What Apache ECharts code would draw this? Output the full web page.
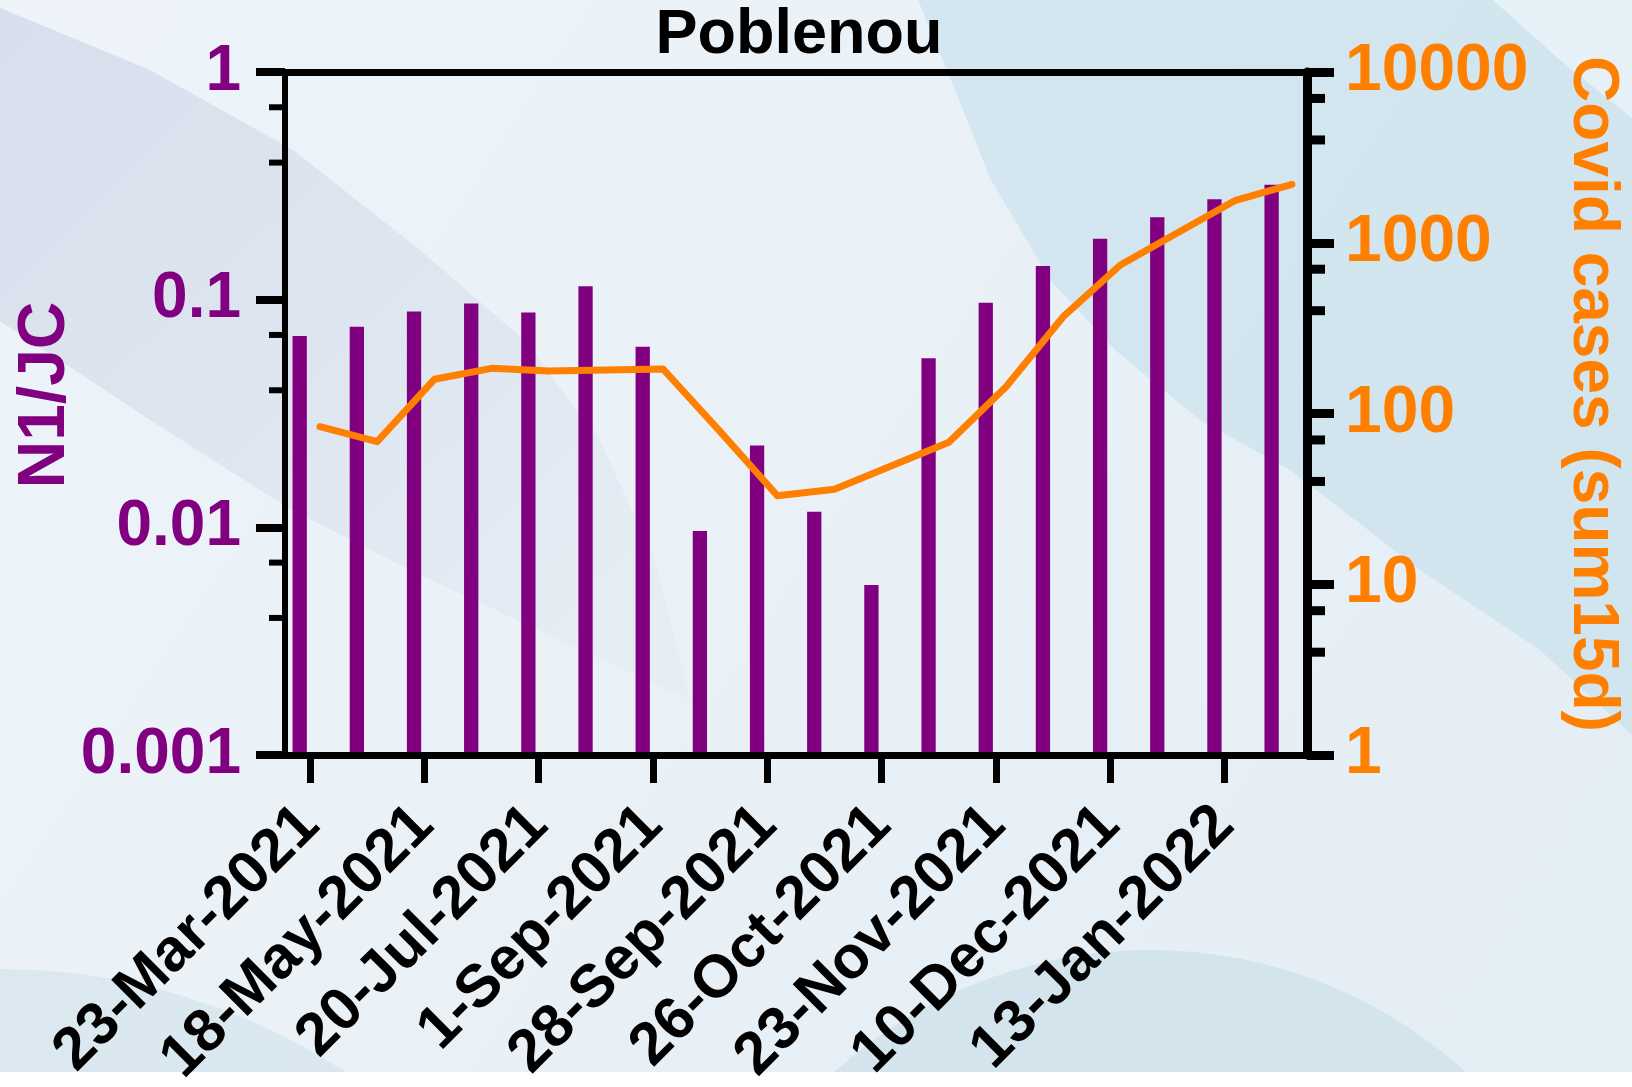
<!DOCTYPE html>
<html>
<head>
<meta charset="utf-8">
<title>Poblenou</title>
<script src="https://cdn.jsdelivr.net/npm/echarts@6/dist/echarts.min.js"></script>
<style>
  html, body { margin: 0; padding: 0; background: #ffffff; }
  #chart { width: 1632px; height: 1087px; }
</style>
</head>
<body>
<div id="chart"></div>
<script>
// Sampling dates on the x axis (every second sample carries a label)
const dateLabels = ['23-Mar-2021', '18-May-2021', '20-Jul-2021', '1-Sep-2021', '28-Sep-2021',
                    '26-Oct-2021', '23-Nov-2021', '10-Dec-2021', '13-Jan-2022'];

// N1 gene copies normalised by JC virus (left axis)
const n1jc = [0.0692, 0.0760, 0.0888, 0.0961, 0.0879, 0.1144, 0.0621, 0.00964, 0.0229,
              0.0117, 0.00558, 0.0553, 0.0970, 0.1405, 0.1853, 0.2300, 0.2760, 0.3199];

// Covid cases, 15-day sum (right axis)
const cases = [83.7, 68.4, 158.6, 183.9, 177.4, 179.8, 182.2, 78.3, 33.0,
               36.0, 49.5, 67.9, 143.5, 368.9, 740.6, 1145, 1763, 2199];

// Axis ranges and minor tick values
const leftRange = [0.001, 1];
const rightRange = [1, 10000];
const leftMinorTicks = [0.7, 0.4, 0.07, 0.04, 0.007, 0.004];
const rightMinorTicks = [7000, 4000, 700, 400, 70, 40, 7, 4];

const categories = n1jc.map((_, i) => (i % 2 === 0 ? dateLabels[i / 2] : ''));

const PURPLE = '#800080';
const ORANGE = '#ff8000';
const FONT = '"Liberation Sans", Arial, Helvetica, sans-serif';

// plot frame geometry
const GRID = { left: 281.2, width: 1029.1, top: 72, height: 683 };
const INSET_L = 3.8;     // left axis line sits slightly inside the first band
const INSET_R = 3.3;     // same for the right axis
const BAR_W = 14.3;
const BAR_SHIFT = -10.1; // bars sit left of the band centre
const LINE_SHIFT = 10.2; // line points sit right of the band centre

const chart = echarts.init(document.getElementById('chart'), null, { renderer: 'canvas' });

const fmt = v => String(+(+v).toPrecision(4));

// soft wallpaper behind the graph
const background = [
  { type: 'rect', z: -100, silent: true, shape: { x: 0, y: 0, width: 1632, height: 1072 },
    style: { fill: new echarts.graphic.LinearGradient(0, 0, 1, 1, [
      { offset: 0, color: '#eef4f9' }, { offset: 0.5, color: '#e9f1f7' }, { offset: 1, color: '#e3edf4' }]) } },
  { type: 'polygon', z: -99, silent: true,
    shape: { points: [[0, 8], [150, 70], [293, 150], [420, 250], [523, 339], [600, 440], [654, 560], [690, 700],
                      [560, 640], [420, 575], [293, 511], [150, 420], [0, 321]] },
    style: { fill: new echarts.graphic.LinearGradient(0, 0, 1, 1, [
      { offset: 0, color: 'rgba(188,196,222,0.45)' }, { offset: 0.6, color: 'rgba(196,206,226,0.30)' },
      { offset: 1, color: 'rgba(205,215,230,0.10)' }]) } },
  { type: 'polygon', z: -98, silent: true,
    shape: { points: [[918, 0], [955, 90], [990, 178], [1050, 280], [1115, 350], [1200, 420], [1290, 470],
                      [1420, 570], [1540, 650], [1632, 735], [1632, 0]] },
    style: { fill: 'rgba(180,214,230,0.40)' } },
  { type: 'polygon', z: -97, silent: true,
    shape: { points: [[1493, 0], [1632, 0], [1632, 118], [1560, 60]] },
    style: { fill: 'rgba(238,246,251,0.7)' } },
  { type: 'circle', z: -96, silent: true, shape: { cx: 1150, cy: 1420, r: 470 },
    style: { fill: 'rgba(186,212,226,0.40)' } },
  { type: 'circle', z: -95, silent: true, shape: { cx: 0, cy: 1600, r: 631 },
    style: { fill: 'rgba(192,214,228,0.36)' } },
  { type: 'rect', z: -90, silent: true, shape: { x: 0, y: 1072, width: 1632, height: 15 },
    style: { fill: '#ffffff' } }
];

function minorTickSeries(values, yAxisIndex, side, len, width) {
  return {
    type: 'custom',
    xAxisIndex: 0,
    yAxisIndex: yAxisIndex,
    silent: true,
    clip: false,
    z: 6,
    data: values.map(v => [0, v]),
    renderItem(params, api) {
      const y = api.coord([0, api.value(1)])[1];
      const cs = params.coordSys;
      const x = side === 'left' ? cs.x + INSET_L : cs.x + cs.width - INSET_R;
      const x2 = side === 'left' ? x - len : x + len;
      return { type: 'line', shape: { x1: x, y1: y, x2: x2, y2: y },
               style: { stroke: '#000', lineWidth: width } };
    }
  };
}

const option = {
  backgroundColor: '#ffffff',
  animation: false,
  graphic: background,
  title: {
    text: 'Poblenou',
    left: 799,
    top: 4,
    padding: 0,
    textAlign: 'center',
    textStyle: { fontFamily: FONT, fontSize: 63, fontWeight: 'bold', color: '#000' }
  },
  grid: [
    { left: GRID.left, width: GRID.width, top: GRID.top, height: GRID.height, outerBoundsMode: 'none', containLabel: false },
    { left: GRID.left + LINE_SHIFT, width: GRID.width, top: GRID.top, height: GRID.height, outerBoundsMode: 'none', containLabel: false }
  ],
  xAxis: [
    {
      gridIndex: 0, type: 'category', data: categories, position: 'bottom', boundaryGap: true, z: 5,
      axisLine: { show: true, lineStyle: { color: '#000', width: 7 } },
      axisTick: { show: true, alignWithLabel: true, interval: 1, length: 28, lineStyle: { color: '#000', width: 7 } },
      axisLabel: { interval: 1, rotate: 45, margin: 61, color: '#000', fontFamily: FONT, fontSize: 60, fontWeight: 'bold' },
      splitLine: { show: false }
    },
    {
      gridIndex: 0, type: 'category', data: categories, position: 'top', boundaryGap: true, z: 5,
      axisLine: { show: true, lineStyle: { color: '#000', width: 7 } },
      axisTick: { show: false }, axisLabel: { show: false }, splitLine: { show: false }
    },
    { gridIndex: 1, type: 'category', data: categories, boundaryGap: true, show: false }
  ],
  yAxis: [
    {
      gridIndex: 0, type: 'log', logBase: 10, min: leftRange[0], max: leftRange[1], position: 'left',
      offset: -INSET_L, z: 5,
      axisLine: { show: true, lineStyle: { color: '#000', width: 6 } },
      axisTick: { show: true, length: 29, lineStyle: { color: '#000', width: 8 } },
      axisLabel: { margin: 44, color: PURPLE, fontFamily: FONT, fontSize: 64, fontWeight: 'bold', formatter: fmt },
      splitLine: { show: false },
      name: 'N1/JC', nameLocation: 'middle', nameGap: 206, nameMoveOverlap: false,
      nameTextStyle: { color: PURPLE, fontFamily: FONT, fontSize: 66, fontWeight: 'bold', padding: [0, 0, 0, 37] }
    },
    {
      gridIndex: 0, type: 'log', logBase: 10, min: rightRange[0], max: rightRange[1], position: 'right',
      offset: -INSET_R, z: 5,
      axisLine: { show: true, lineStyle: { color: '#000', width: 9 } },
      axisTick: { show: true, length: 27, lineStyle: { color: '#000', width: 9 } },
      axisLabel: { margin: 38, color: ORANGE, fontFamily: FONT, fontSize: 66, fontWeight: 'bold', formatter: fmt },
      splitLine: { show: false },
      name: 'Covid cases (sum15d)', nameLocation: 'middle', nameGap: 253, nameRotate: -90, nameMoveOverlap: false,
      nameTextStyle: { color: ORANGE, fontFamily: FONT, fontSize: 64, fontWeight: 'bold', padding: [0, 39, 0, 0] }
    },
    { gridIndex: 1, type: 'log', logBase: 10, min: rightRange[0], max: rightRange[1], show: false }
  ],
  series: [
    {
      name: 'N1/JC',
      type: 'custom',
      xAxisIndex: 0,
      yAxisIndex: 0,
      z: 2,
      data: n1jc.map((v, i) => [i, v]),
      encode: { x: 0, y: 1 },
      renderItem(params, api) {
        const i = api.value(0);
        const top = api.coord([i, api.value(1)]);
        const base = api.coord([i, leftRange[0]]);
        return {
          type: 'rect',
          shape: { x: top[0] + BAR_SHIFT - BAR_W / 2, y: top[1], width: BAR_W, height: base[1] - top[1] },
          style: { fill: PURPLE }
        };
      }
    },
    {
      name: 'Covid cases (sum15d)',
      type: 'line',
      xAxisIndex: 2,
      yAxisIndex: 2,
      z: 3,
      data: cases,
      symbol: 'none',
      lineStyle: { color: ORANGE, width: 7, cap: 'round', join: 'round' }
    },
    minorTickSeries(leftMinorTicks, 0, 'left', 16, 6),
    minorTickSeries(rightMinorTicks, 1, 'right', 18, 9)
  ]
};

chart.setOption(option);
</script>
</body>
</html>
